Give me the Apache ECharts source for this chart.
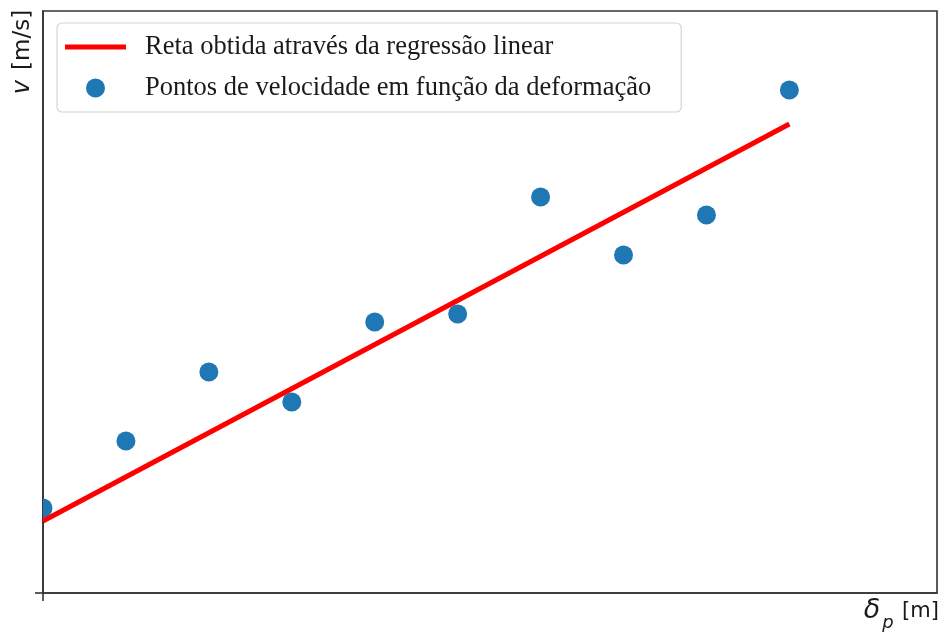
<!DOCTYPE html>
<html>
<head>
<meta charset="utf-8">
<style>
  html, body { margin: 0; padding: 0; background: #fff; }
  #chart { width: 942px; height: 633px; }
</style>
<script src="https://cdn.jsdelivr.net/npm/echarts@6/dist/echarts.min.js"></script>
</head>
<body>
<div id="chart"></div>
<script>
// Measured deformation steps and velocities
const deformacao = [0, 1, 2, 3, 4, 5, 6, 7, 8, 9];
const velocidade = [85, 152, 221, 191, 271, 279, 396, 338, 378, 503];

// End points of the fitted regression line
const retaX = [0, 9];
const retaY = [72, 469];

// Axis extents
const xMax = 10.78;
const yMax = 582;

const nomeReta = 'Reta obtida através da regressão linear';
const nomePontos = 'Pontos de velocidade em função da deformação';

const chart = echarts.init(document.getElementById('chart'), null, { renderer: 'canvas' });

const axisColor = '#333';

chart.setOption({
  animation: false,
  backgroundColor: '#fff',
  grid: {
    left: 43, top: 11, right: 5, bottom: 40,
    show: true, borderColor: axisColor, borderWidth: 1.6, backgroundColor: 'transparent'
  },
  legend: {
    orient: 'vertical',
    left: 57, top: 23,
    padding: [9, 30, 9, 8],
    itemWidth: 61, itemHeight: 19, itemGap: 11,
    backgroundColor: '#fff',
    borderColor: '#d4d4d4', borderWidth: 1.2, borderRadius: 5,
    textStyle: {
      fontFamily: 'Liberation Serif', fontSize: 26.5, color: '#1a1a1a',
      lineHeight: 30, padding: [0, 0, 0, 14]
    },
    data: [
      // plain stroke sample for the fitted line
      { name: nomeReta, icon: 'path://M0,0 L61,0 L61,5 L0,5 Z' },
      { name: nomePontos, icon: 'circle' }
    ]
  },
  xAxis: {
    type: 'value', min: 0, max: xMax,
    axisLine: { show: true, lineStyle: { color: axisColor, width: 1.6 } },
    axisTick: { show: true, customValues: [0], length: 8, lineStyle: { color: axisColor, width: 1.6 } },
    axisLabel: { show: false },
    splitLine: { show: false }
  },
  yAxis: {
    type: 'value', min: 0, max: yMax,
    axisLine: { show: true, lineStyle: { color: axisColor, width: 1.6 } },
    axisTick: { show: true, customValues: [0], length: 8, lineStyle: { color: axisColor, width: 1.6 } },
    axisLabel: { show: false },
    splitLine: { show: false }
  },
  graphic: [
    {
      type: 'text', x: 23, y: 52, rotation: Math.PI / 2,
      style: {
        text: '{v|v}{s| }{u|[m/s]}',
        align: 'center', verticalAlign: 'middle',
        rich: {
          v: { fontFamily: 'DejaVu Sans', fontStyle: 'italic', fontSize: 24, fill: '#1a1a1a' },
          s: { fontFamily: 'DejaVu Sans', fontSize: 24, width: 10 },
          u: { fontFamily: 'DejaVu Sans', fontSize: 23, fill: '#1a1a1a' }
        }
      }
    },
    {
      type: 'text', x: 872, y: 611,
      style: { text: 'δ', fontFamily: 'DejaVu Sans', fontStyle: 'italic', fontSize: 27,
               fill: '#1a1a1a', align: 'center', verticalAlign: 'middle' }
    },
    {
      type: 'text', x: 888, y: 623,
      style: { text: 'p', fontFamily: 'DejaVu Sans', fontStyle: 'italic', fontSize: 18,
               fill: '#1a1a1a', align: 'center', verticalAlign: 'middle' }
    },
    {
      type: 'text', x: 920.5, y: 612,
      style: { text: '[m]', fontFamily: 'DejaVu Sans', fontSize: 21,
               fill: '#1a1a1a', align: 'center', verticalAlign: 'middle' }
    }
  ],
  series: [
    {
      name: nomeReta,
      type: 'line',
      data: retaX.map((x, i) => [x, retaY[i]]),
      symbol: 'none',
      lineStyle: { color: '#ff0000', width: 5 },
      itemStyle: { color: '#ff0000' },
      z: 4
    },
    {
      name: nomePontos,
      type: 'custom',
      clip: true,
      data: deformacao.map((x, i) => [x, velocidade[i]]),
      encode: { x: 0, y: 1 },
      itemStyle: { color: '#1f77b4' },
      z: 3,
      renderItem: function (params, api) {
        const p = api.coord([api.value(0), api.value(1)]);
        return {
          type: 'circle',
          shape: { cx: p[0], cy: p[1], r: 9.5 },
          style: { fill: '#1f77b4' }
        };
      }
    }
  ]
});
</script>
</body>
</html>
